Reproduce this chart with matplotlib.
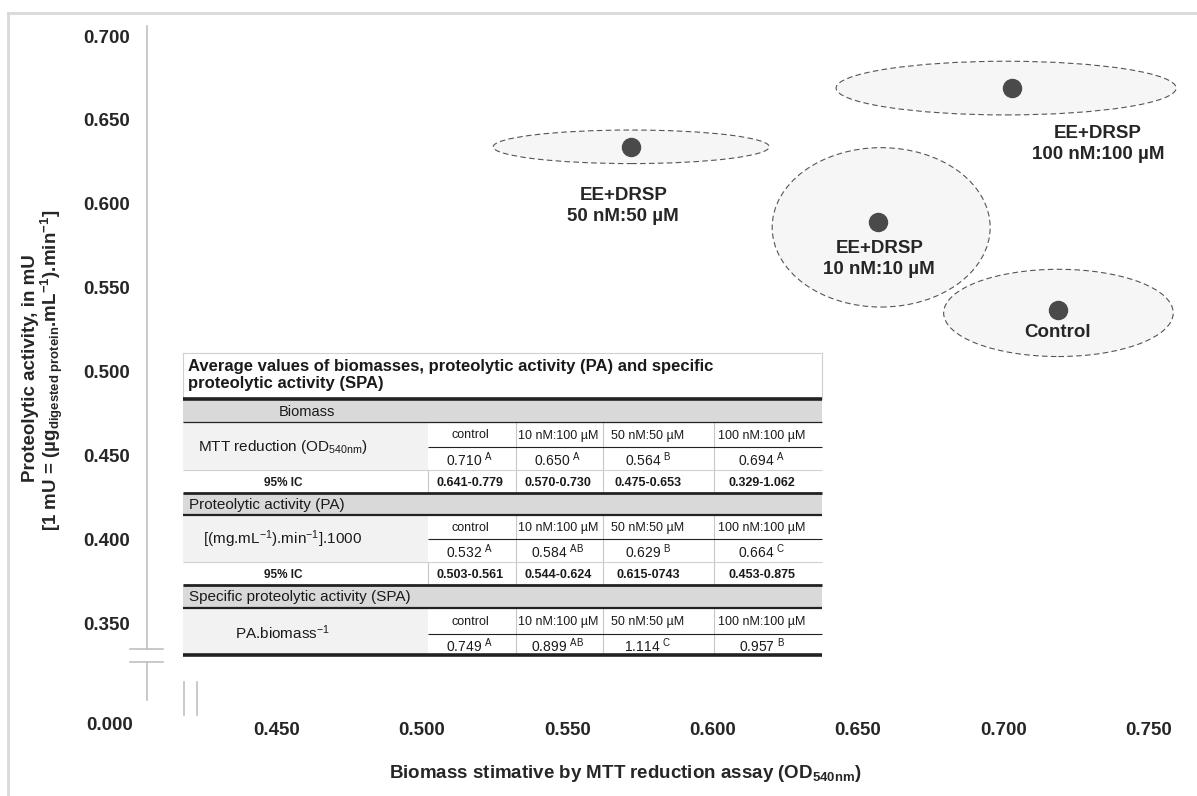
import matplotlib
matplotlib.use("Agg")
import matplotlib.pyplot as plt
from matplotlib.patches import Ellipse, Rectangle

plt.rcParams['font.family'] = ['Liberation Sans', 'DejaVu Sans']
plt.rcParams['mathtext.fontset'] = 'custom'
plt.rcParams['mathtext.rm'] = 'Liberation Sans'
plt.rcParams['mathtext.it'] = 'Liberation Sans:italic'
plt.rcParams['mathtext.bf'] = 'Liberation Sans:bold'
plt.rcParams['mathtext.default'] = 'regular'

# ---------------- data ----------------
groups = ["Control", "EE+DRSP\n10 nM:10 µM", "EE+DRSP\n50 nM:50 µM", "EE+DRSP\n100 nM:100 µM"]
biomass = [0.719, 0.657, 0.572, 0.703]
activity = [0.537, 0.589, 0.634, 0.669]
# dispersion ellipses (centre and full extents, data units)
ell_x = [0.719, 0.658, 0.572, 0.701]
ell_y = [0.535, 0.586, 0.634, 0.669]
ell_w = [0.079, 0.075, 0.095, 0.117]
ell_h = [0.052, 0.095, 0.020, 0.032]

x_ticks = [0.450, 0.500, 0.550, 0.600, 0.650, 0.700, 0.750]
y_ticks = [0.350, 0.400, 0.450, 0.500, 0.550, 0.600, 0.650, 0.700]

# table contents
table_title = "Average values of biomasses, proteolytic activity (PA) and specific\nproteolytic activity (SPA)"
section_names = ["Biomass", "Proteolytic activity (PA)", "Specific proteolytic activity (SPA)"]
row_labels = ["MTT reduction (OD$_{540nm}$)", "[(mg.mL$^{-1}$).min$^{-1}$].1000", "PA.biomass$^{-1}$"]
col_headers = ["control", "10 nM:100 µM", "50 nM:50 µM", "100 nM:100 µM"]
mtt_vals = ["0.710", "0.650", "0.564", "0.694"]
mtt_sig = ["A", "A", "B", "A"]
mtt_ic = ["0.641-0.779", "0.570-0.730", "0.475-0.653", "0.329-1.062"]
pa_vals = ["0.532", "0.584", "0.629", "0.664"]
pa_sig = ["A", "AB", "B", "C"]
pa_ic = ["0.503-0.561", "0.544-0.624", "0.615-0743", "0.453-0.875"]
spa_vals = ["0.749", "0.899", "1.114", "0.957"]
spa_sig = ["A", "AB", "C", "B"]

W, H = 1197, 796
fig = plt.figure(figsize=(W / 100, H / 100), dpi=100)
fig.patch.set_facecolor('white')

# main axes (pixel box 147..1177.6 x 26..700)
ax = fig.add_axes([147 / W, (H - 700) / H, 1030.6 / W, 674 / H])
ax.set_xlim(0.4054, 0.76)
ax.set_ylim(0.3043, 0.706)
for s in ax.spines.values():
    s.set_visible(False)
ax.set_facecolor('none')

txtc = '#262626'
for cx, cy, w, h in zip(ell_x, ell_y, ell_w, ell_h):
    ax.add_patch(Ellipse((cx, cy), w, h, facecolor='#f6f6f6', edgecolor='#555555',
                         linestyle=(0, (5, 3)), linewidth=0.8, zorder=1))
ax.plot(biomass, activity, 'o', color='#4a4a4a', markersize=13, zorder=3, linestyle='none')

offsets = [(-1, -23), (1, -37), (-8, -59), (86, -56)]
for gx, gy, name, off in zip(biomass, activity, groups, offsets):
    ax.annotate(name, (gx, gy), xytext=off, textcoords='offset pixels', ha='center', va='center',
                fontsize=13.5, fontweight='bold', color=txtc, linespacing=1.3, zorder=4)

ax.set_xticks(x_ticks)
ax.set_xticklabels([f"{v:.3f}" for v in x_ticks])
ax.set_yticks(y_ticks)
ax.set_yticklabels([f"{v:.3f}" for v in y_ticks])
ax.tick_params(axis='both', length=0, labelsize=13.5, labelcolor=txtc)
ax.tick_params(axis='x', pad=16)
ax.tick_params(axis='y', pad=12)
for lab in ax.get_xticklabels() + ax.get_yticklabels():
    lab.set_fontweight('bold')

# ---------------- overlay in pixel coordinates ----------------
ov = fig.add_axes([0, 0, 1, 1], zorder=5)
ov.set_xlim(0, W)
ov.set_ylim(H, 0)
ov.axis('off')
ov.set_facecolor('none')

# outer frame
ov.plot([8, 8], [13, H + 5], color='#d9d9d9', lw=2)
ov.plot([8, W + 5], [13, 13], color='#d9d9d9', lw=2)

# broken y axis
axc = '#c0c0c0'
ov.plot([147, 147], [26, 649], color=axc, lw=1.2)
ov.plot([147, 147], [662, 700], color=axc, lw=1.2)
ov.plot([130, 163], [649, 649], color=axc, lw=1.2)
ov.plot([130, 163], [662, 662], color=axc, lw=1.2)
# x break marks
ov.plot([184, 184], [682, 715], color=axc, lw=1.2)
ov.plot([197, 197], [682, 715], color=axc, lw=1.2)
ov.text(110, 726, "0.000", ha='center', va='center', fontsize=13.5, fontweight='bold', color=txtc)

# axis titles
ov.text(625, 774, "Biomass stimative by MTT reduction assay (OD$_{540nm}$)", ha='center', va='center',
        fontsize=13.5, fontweight='bold', color=txtc)
ov.text(31, 368, "Proteolytic activity, in mU", rotation=90, ha='center', va='center',
        fontsize=13.5, fontweight='bold', color=txtc)
ov.text(52, 370, "[1 mU = (µg$_{digested\\ protein}$.mL$^{-1}$).min$^{-1}$]", rotation=90,
        ha='center', va='center', fontsize=13.5, fontweight='bold', color=txtc)

# ---------------- table ----------------
TL, TR, LC = 183, 822, 428
col_bounds = [428, 516, 603, 714, 822]
col_centers = [470, 558, 648, 762]
grey = '#d9d9d9'
light = '#f2f2f2'
sep = '#c8c8c8'
tc = '#1a1a1a'

def rect(x0, y0, x1, y1, fc):
    ov.add_patch(Rectangle((x0, y0), x1 - x0, y1 - y0, facecolor=fc, edgecolor='none', zorder=1))

def hline(y, x0=TL, x1=TR, lw=0.8, c='#222222'):
    ov.plot([x0, x1], [y, y], color=c, lw=lw, zorder=3, solid_capstyle='butt')

def vline(x, y0, y1, c=sep, lw=0.8):
    ov.plot([x, x], [y0, y1], color=c, lw=lw, zorder=2)

# title box
rect(TL, 353, TR, 399, 'white')
hline(353, c='#cfcfcf')
vline(TL, 353, 399, c='#cfcfcf')
vline(TR, 353, 399, c='#cfcfcf')
ov.text(188, 375, table_title, ha='left', va='center', fontsize=12, fontweight='bold',
        color=tc, linespacing=1.15, zorder=4)

sections = [
    # (sec_top, sec_bot, row_bot, split, ic_bot, vals, sigs, ic)
    (399, 422, 470, 447, 493, mtt_vals, mtt_sig, mtt_ic),
    (493, 515, 562, 539, 585, pa_vals, pa_sig, pa_ic),
    (585, 608, 655, 634, None, spa_vals, spa_sig, None),
]
for k, (st, sb, rb, sp, ib, vals, sigs, ic) in enumerate(sections):
    rect(TL, st, TR, sb, grey)
    if k == 0:
        ov.text(307, (st + sb) / 2 + 1, section_names[k], ha='center', va='center', fontsize=10.5,
                color=tc, zorder=4)
    else:
        ov.text(189, (st + sb) / 2 + 1, section_names[k], ha='left', va='center', fontsize=11,
                color=tc, zorder=4)
    rect(TL, sb, LC, rb, light)
    rect(LC, sb, TR, rb, 'white')
    hline(sb, lw=1.6 if k > 0 else 0.9)
    hline(sp, LC, TR, lw=0.8)
    for cb in col_bounds[1:-1]:
        vline(cb, sb, rb)
    ov.text(283, (sb + rb) / 2 + 1, row_labels[k], ha='center', va='center', fontsize=11,
            color=tc, zorder=4)
    for c, hdr, v, s in zip(col_centers, col_headers, vals, sigs):
        ov.text(c, (sb + sp) / 2 + 1, hdr, ha='center', va='center', fontsize=9, color=tc, zorder=4)
        ov.text(c, (sp + rb) / 2 + 1, f"{v} $^{{{s}}}$", ha='center', va='center', fontsize=10,
                color=tc, zorder=4)
    if ic is not None:
        rect(TL, rb, TR, ib, 'white')
        hline(rb, c='#d0d0d0', lw=0.8)
        vline(LC, rb, ib)
        for cb in col_bounds[1:-1]:
            vline(cb, rb, ib)
        ov.text(283, (rb + ib) / 2 + 1, "95% IC", ha='center', va='center', fontsize=8.5,
                fontweight='bold', color=tc, zorder=4)
        for c, t in zip(col_centers, ic):
            ov.text(c, (rb + ib) / 2 + 1, t, ha='center', va='center', fontsize=9,
                    fontweight='bold', color=tc, zorder=4)
    if k == 0:
        hline(st, lw=2.6)
    else:
        hline(st, lw=2.0)

hline(655, lw=2.6)

fig.savefig("out.png", dpi=100)
